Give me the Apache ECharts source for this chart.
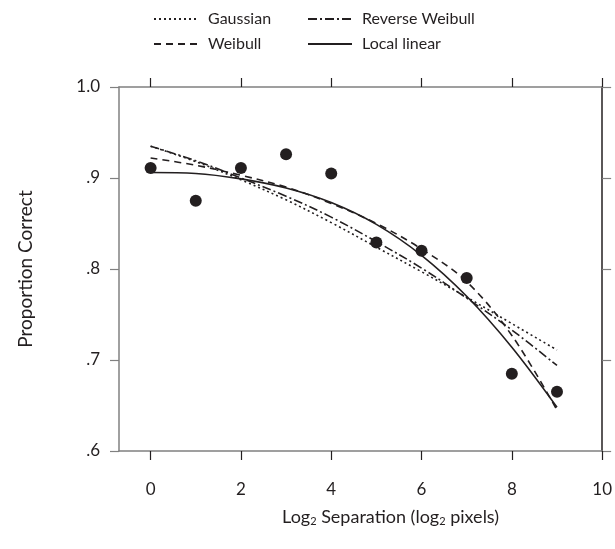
<!DOCTYPE html>
<html>
<head>
<meta charset="utf-8">
<script src="https://cdn.jsdelivr.net/npm/echarts@6/dist/echarts.min.js"></script>
<style>
  html, body { margin: 0; padding: 0; background: #fff; }
  #chart { width: 615px; height: 549px; }
</style>
</head>
<body>
<div id="chart"></div>
<script>
// ---- Data ----
const separation = [0, 1, 2, 3, 4, 5, 6, 7, 8, 9];
const observed    = [0.911, 0.875, 0.911, 0.926, 0.905, 0.829, 0.820, 0.790, 0.685, 0.665];
const gaussian    = [0.935, 0.918, 0.898, 0.876, 0.851, 0.824, 0.797, 0.769, 0.740, 0.711];
const weibull     = [0.922, 0.914, 0.903, 0.890, 0.872, 0.850, 0.822, 0.786, 0.727, 0.645];
const revWeibull  = [0.935, 0.919, 0.900, 0.880, 0.857, 0.830, 0.801, 0.768, 0.733, 0.694];
const localLinear = [0.906, 0.905, 0.899, 0.889, 0.873, 0.849, 0.815, 0.770, 0.714, 0.648];
const xTicks = [0, 2, 4, 6, 8, 10];

const pairs = ys => separation.map((x, i) => [x, ys[i]]);

const FONT = 'Lato';
const INK = '#231f20';
const AXIS_GRAY = '#808080';

const yFmt = v => (v >= 1 ? '1.0' : v.toFixed(1).replace(/^0/, ''));

const chart = echarts.init(document.getElementById('chart'), null, { renderer: 'canvas' });

const baseX = {
  type: 'value', min: -0.7, max: 10,
  splitLine: { show: false },
  axisLine: { show: true, onZero: false, lineStyle: { color: AXIS_GRAY, width: 1.5 } },
  axisTick: { show: true, inside: false, length: 9, customValues: xTicks, lineStyle: { color: INK, width: 1.2 } },
};
const baseY = {
  type: 'value', min: 0.6, max: 1.0, interval: 0.1,
  splitLine: { show: false },
  axisLine: { show: true, onZero: false, lineStyle: { color: AXIS_GRAY, width: 1.5 } },
  axisTick: { show: true, inside: false, length: 9, lineStyle: { color: AXIS_GRAY, width: 1.2 } },
};

const lineSeries = (name, ys, dash) => ({
  name, type: 'line', data: pairs(ys), smooth: 0.35, symbol: 'none',
  xAxisIndex: 0, yAxisIndex: 0, z: 3,
  lineStyle: { color: INK, width: 1.6, type: dash },
  itemStyle: { color: INK },
  emphasis: { disabled: true },
});

const legendCommon = {
  orient: 'vertical', itemWidth: 44, itemHeight: 14, itemGap: 7,
  itemStyle: { opacity: 0 },
  textStyle: { fontFamily: FONT, fontSize: 16, color: INK, lineHeight: 18, padding: [0, 0, 0, 5] },
  selectedMode: false,
};

chart.setOption({
  animation: false,
  backgroundColor: '#fff',
  grid: { left: 119, right: 12, top: 87, bottom: 98, containLabel: false },
  legend: [
    Object.assign({}, legendCommon, { left: 148, top: 5, data: ['Gaussian', 'Weibull'] }),
    Object.assign({}, legendCommon, { left: 302, top: 5, data: ['Reverse Weibull', 'Local linear'] }),
  ],
  xAxis: [
    Object.assign({}, baseX, {
      position: 'bottom',
      axisLabel: { show: true, customValues: xTicks, margin: 30, fontFamily: FONT, fontSize: 17, color: INK },
      name: '{a|Log}{s|2}{a| Separation (log}{s|2}{a| pixels)}',
      nameLocation: 'middle', nameGap: 56,
      nameTextStyle: {
        padding: [0, 0, 0, 60],
        rich: {
          a: { fontFamily: FONT, fontSize: 18, color: INK },
          s: { fontFamily: FONT, fontSize: 11, color: INK, padding: [9, 0, 0, 0] },
        },
      },
    }),
    Object.assign({}, baseX, {
      position: 'top',
      axisLabel: { show: false },
    }),
  ],
  yAxis: [
    Object.assign({}, baseY, {
      position: 'left',
      axisLabel: { show: true, formatter: yFmt, margin: 19, fontFamily: FONT, fontSize: 17, color: INK },
      name: 'Proportion Correct', nameLocation: 'middle', nameGap: 84,
      nameTextStyle: { fontFamily: FONT, fontSize: 19, color: INK },
    }),
    Object.assign({}, baseY, {
      position: 'right',
      axisLine: { show: true, onZero: false, lineStyle: { color: INK, width: 1.5 } },
      axisLabel: { show: false },
    }),
  ],
  series: [
    lineSeries('Gaussian', gaussian, [2, 3]),
    lineSeries('Weibull', weibull, [7, 5]),
    lineSeries('Reverse Weibull', revWeibull, [9, 3, 2, 3]),
    lineSeries('Local linear', localLinear, 'solid'),
    {
      name: 'Observed', type: 'scatter', data: pairs(observed),
      symbol: 'circle', symbolSize: 12, z: 4,
      itemStyle: { color: INK, opacity: 1 },
      emphasis: { disabled: true },
    },
  ],
});
</script>
</body>
</html>
